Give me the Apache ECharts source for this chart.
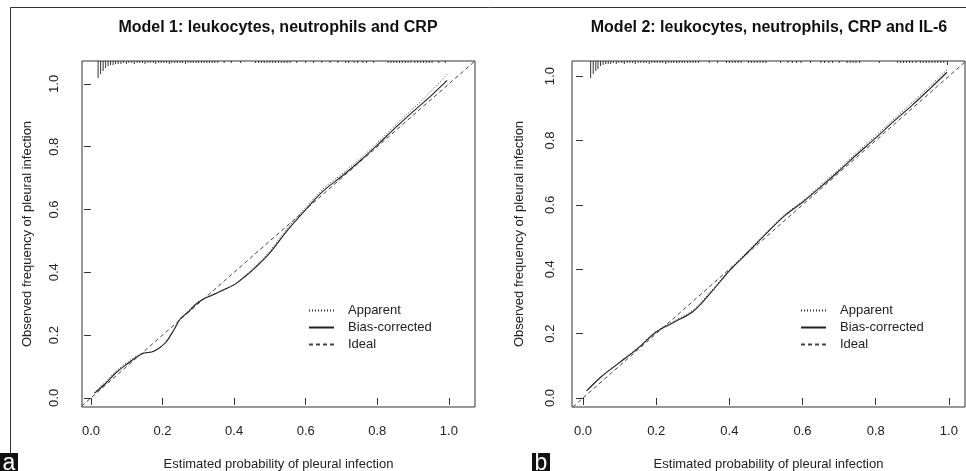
<!DOCTYPE html>
<html>
<head>
<meta charset="utf-8">
<script src="https://cdn.jsdelivr.net/npm/echarts@6/dist/echarts.min.js"></script>
<style>
    html, body { margin: 0; padding: 0; background: #fff; }
    #chart { width: 966px; height: 471px; }
</style>
</head>
<body>
<div id="chart"></div>
<script>
    //  data
    const tickValues = [0, 0.2, 0.4, 0.6, 0.8, 1.0];
    const legendNames = ['Apparent', 'Bias-corrected', 'Ideal'];
    const panelTitles = ['Model 1: leukocytes, neutrophils and CRP', 'Model 2: leukocytes, neutrophils, CRP and IL-6'];
    const panelTags = ['a', 'b'];
    const xTitle = 'Estimated probability of pleural infection';
    const yTitle = 'Observed frequency of pleural infection';
    const idealLine = [[-0.1, -0.1], [1.2, 1.2]];

    // model 1
    const probs1 = [0.01, 0.04, 0.07, 0.10, 0.13, 0.15, 0.17, 0.19, 0.21, 0.23, 0.25, 0.27, 0.29, 0.31, 0.34,
        0.37, 0.40, 0.43, 0.46, 0.50, 0.55, 0.60, 0.65, 0.70, 0.75, 0.80, 0.85, 0.90, 0.95, 0.995];
    const biasCorrected1 = [0.015, 0.045, 0.080, 0.107, 0.132, 0.143, 0.146, 0.158, 0.178, 0.213, 0.252, 0.272, 0.295, 0.312, 0.328,
        0.344, 0.360, 0.386, 0.416, 0.462, 0.535, 0.600, 0.660, 0.705, 0.753, 0.805, 0.860, 0.912, 0.962, 1.011];
    const apparent1 = [0.017, 0.050, 0.085, 0.112, 0.135, 0.144, 0.147, 0.158, 0.180, 0.215, 0.253, 0.274, 0.297, 0.313, 0.329,
        0.345, 0.362, 0.389, 0.420, 0.468, 0.542, 0.607, 0.667, 0.712, 0.760, 0.812, 0.868, 0.921, 0.976, 1.030];
    // spike histogram of predicted risks [prob, count]
    const rug1 = [[0.020, 17], [0.027, 13], [0.034, 10], [0.041, 7], [0.048, 5], [0.055, 4], [0.062, 4], [0.069, 3], [0.076, 3],
        [0.084, 3], [0.091, 2], [0.099, 3], [0.106, 2], [0.114, 2], [0.121, 3], [0.129, 2], [0.136, 2], [0.144, 2], [0.151, 3],
        [0.159, 2], [0.166, 2], [0.174, 2], [0.181, 3], [0.189, 2], [0.196, 2], [0.204, 2], [0.211, 2], [0.219, 3], [0.226, 2],
        [0.234, 2], [0.241, 2], [0.249, 2], [0.256, 2], [0.264, 3], [0.271, 2], [0.279, 2], [0.286, 2], [0.294, 2], [0.301, 2],
        [0.309, 2], [0.316, 2], [0.324, 2], [0.331, 2], [0.339, 2], [0.346, 2], [0.354, 2],
        [0.372, 2], [0.392, 2], [0.418, 2],
        [0.460, 2], [0.468, 2], [0.476, 2], [0.484, 2], [0.492, 2], [0.500, 2], [0.508, 2], [0.516, 2], [0.524, 2], [0.532, 2],
        [0.540, 2], [0.548, 2], [0.556, 2],
        [0.575, 2], [0.600, 2], [0.622, 2], [0.645, 2], [0.668, 2], [0.690, 2],
        [0.712, 2], [0.720, 2], [0.735, 2], [0.745, 2], [0.760, 2], [0.770, 2], [0.790, 2],
        [0.830, 2], [0.838, 2], [0.846, 2], [0.854, 2], [0.862, 2], [0.870, 2], [0.878, 2], [0.886, 2], [0.894, 2],
        [0.905, 2], [0.913, 2], [0.921, 2], [0.929, 2], [0.937, 2], [0.945, 2], [0.953, 2], [0.972, 2], [0.990, 2]];

    // model 2
    const probs2 = [0.01, 0.05, 0.10, 0.15, 0.20, 0.25, 0.30, 0.35, 0.40, 0.45, 0.50, 0.55, 0.60, 0.65, 0.70,
        0.75, 0.80, 0.85, 0.90, 0.95, 0.995];
    const biasCorrected2 = [0.022, 0.066, 0.110, 0.154, 0.205, 0.236, 0.268, 0.328, 0.395, 0.452, 0.510, 0.565, 0.608, 0.656, 0.706,
        0.758, 0.808, 0.860, 0.910, 0.963, 1.012];
    const apparent2 = [0.022, 0.067, 0.112, 0.156, 0.207, 0.240, 0.273, 0.332, 0.398, 0.455, 0.513, 0.568, 0.612, 0.661, 0.711,
        0.764, 0.815, 0.867, 0.918, 0.971, 1.020];
    const rug2 = [[0.021, 17], [0.028, 13], [0.035, 10], [0.041, 8], [0.048, 5], [0.055, 4], [0.062, 3], [0.069, 3],
        [0.076, 3], [0.083, 2], [0.091, 3], [0.098, 2], [0.106, 2], [0.113, 3], [0.121, 2], [0.128, 2], [0.136, 2], [0.143, 3],
        [0.151, 2], [0.158, 2], [0.166, 2], [0.173, 2], [0.181, 3], [0.188, 2], [0.196, 2], [0.203, 2], [0.211, 2], [0.218, 2],
        [0.226, 3], [0.233, 2], [0.241, 2], [0.248, 2], [0.256, 2], [0.263, 2], [0.271, 2], [0.278, 2], [0.286, 2], [0.293, 2],
        [0.301, 2], [0.308, 2], [0.316, 2],
        [0.345, 2], [0.368, 2],
        [0.392, 2], [0.400, 2], [0.408, 2], [0.416, 2], [0.424, 2], [0.432, 2],
        [0.452, 2], [0.460, 2], [0.468, 2], [0.476, 2], [0.484, 2], [0.492, 2], [0.500, 2],
        [0.540, 2], [0.560, 2], [0.572, 2], [0.584, 2], [0.596, 2], [0.622, 2],
        [0.650, 2], [0.660, 2], [0.672, 2], [0.682, 2], [0.700, 2],
        [0.722, 2], [0.730, 2], [0.738, 2], [0.746, 2], [0.756, 2], [0.810, 2],
        [0.860, 2], [0.868, 2], [0.876, 2], [0.884, 2], [0.892, 2], [0.900, 2], [0.910, 2],
        [0.922, 2], [0.930, 2], [0.938, 2], [0.946, 2], [0.954, 2], [0.962, 2], [0.970, 2], [0.978, 2], [0.986, 2], [0.996, 4]];

    //  layout
    const font = '"Liberation Sans", Arial, Helvetica, sans-serif';
    const ink = '#222';
    const panels = [
        {
            grid: {left: 82, top: 61, width: 393, height: 346},
            xMin: -0.025, xMax: 1.073, yMin: -0.029, yMax: 1.073,
            yLabelMargin: 21, yNameGap: 48, legendLeft: 308, titleX: 278, tagX: 0,
            probs: probs1, apparent: apparent1, bias: biasCorrected1, rug: rug1
        },
        {
            grid: {left: 572, top: 61, width: 393, height: 346},
            xMin: -0.030, xMax: 1.044, yMin: -0.028, yMax: 1.047,
            yLabelMargin: 15, yNameGap: 46, legendLeft: 800, titleX: 769, tagX: 532,
            probs: probs2, apparent: apparent2, bias: biasCorrected2, rug: rug2
        }
    ];

    const chart = echarts.init(document.getElementById('chart'));

    const option = {
        backgroundColor: '#fff',
        animation: false,
        grid: [],
        xAxis: [],
        yAxis: [],
        legend: [],
        series: [],
        graphic: [
            {type: 'line', shape: {x1: 10.5, y1: 7.5, x2: 966, y2: 7.5}, style: {stroke: '#333', lineWidth: 1}},
            {type: 'line', shape: {x1: 10.5, y1: 7.5, x2: 10.5, y2: 453}, style: {stroke: '#333', lineWidth: 1}}
        ]
    };

    panels.forEach(function (p, i) {
        option.grid.push(Object.assign({
            show: true, borderColor: '#333', borderWidth: 1, backgroundColor: 'transparent',
            containLabel: false, outerBoundsMode: 'none'
        }, p.grid));
        option.xAxis.push({
            type: 'value', gridIndex: i, min: p.xMin, max: p.xMax,
            name: xTitle, nameLocation: 'middle', nameGap: 51,
            nameTextStyle: {fontFamily: font, fontSize: 13, color: ink},
            axisLine: {show: false},
            axisTick: {show: true, length: 7, customValues: tickValues, lineStyle: {color: '#333'}},
            axisLabel: {
                customValues: tickValues, margin: 18, fontFamily: font, fontSize: 13, color: ink,
                formatter: v => v.toFixed(1)
            },
            splitLine: {show: false}
        });
        option.yAxis.push({
            type: 'value', gridIndex: i, min: p.yMin, max: p.yMax,
            name: yTitle, nameLocation: 'middle', nameGap: p.yNameGap, nameRotate: 90,
            nameTextStyle: {fontFamily: font, fontSize: 13, color: ink},
            axisLine: {show: false},
            axisTick: {show: true, length: 7, customValues: tickValues, lineStyle: {color: '#333'}},
            axisLabel: {
                customValues: tickValues, margin: p.yLabelMargin, rotate: 90, fontFamily: font, fontSize: 13, color: ink,
                formatter: v => v.toFixed(1)
            },
            splitLine: {show: false}
        });
        option.legend.push({
            left: p.legendLeft, top: 304, orient: 'vertical', padding: 0,
            itemWidth: 25, itemHeight: 10, itemGap: 4,
            data: legendNames,
            itemStyle: {opacity: 0},
            textStyle: {fontFamily: font, fontSize: 13, color: ink, padding: [0, 0, 0, 9]}
        });

        const lineBase = {type: 'line', xAxisIndex: i, yAxisIndex: i, symbol: 'none', smooth: 0.35, silent: true};
        option.series.push(Object.assign({}, lineBase, {
            name: 'Apparent',
            data: p.probs.map((x, k) => [x, p.apparent[k]]),
            lineStyle: {color: '#333', width: 1, type: [1, 2]},
            itemStyle: {color: '#333'}
        }));
        option.series.push(Object.assign({}, lineBase, {
            name: 'Bias-corrected',
            data: p.probs.map((x, k) => [x, p.bias[k]]),
            lineStyle: {color: '#222', width: 1.1, type: 'solid'},
            itemStyle: {color: '#222'}
        }));
        option.series.push(Object.assign({}, lineBase, {
            name: 'Ideal', smooth: false,
            data: idealLine,
            lineStyle: {color: '#444', width: 1, type: [4, 3]},
            itemStyle: {color: '#444'}
        }));
        // spike histogram hanging from the top of the box
        option.series.push({
            type: 'custom', name: 'rug' + i, xAxisIndex: i, yAxisIndex: i, silent: true,
            data: p.rug,
            renderItem: function (params, api) {
                const top = api.coord([api.value(0), p.yMax]);
                return {
                    type: 'line',
                    shape: {x1: top[0], y1: top[1], x2: top[0], y2: top[1] + api.value(1)},
                    style: {stroke: '#333', lineWidth: 1}
                };
            }
        });

        option.graphic.push({
            type: 'text', x: p.titleX, y: 28,
            style: {text: panelTitles[i], fill: '#111', font: 'bold 16px ' + font, align: 'center', verticalAlign: 'middle'}
        });
        option.graphic.push({
            type: 'rect', shape: {x: p.tagX, y: 453, width: 18, height: 18}, style: {fill: '#111'}
        });
        option.graphic.push({
            type: 'text', x: p.tagX + 9, y: 475,
            style: {text: panelTags[i], fill: '#fff', font: '23px ' + font, align: 'center', verticalAlign: 'bottom'}
        });
    });

    chart.setOption(option);
    window.addEventListener('resize', () => {
        chart.resize()
    })
</script>
</body>
</html>
